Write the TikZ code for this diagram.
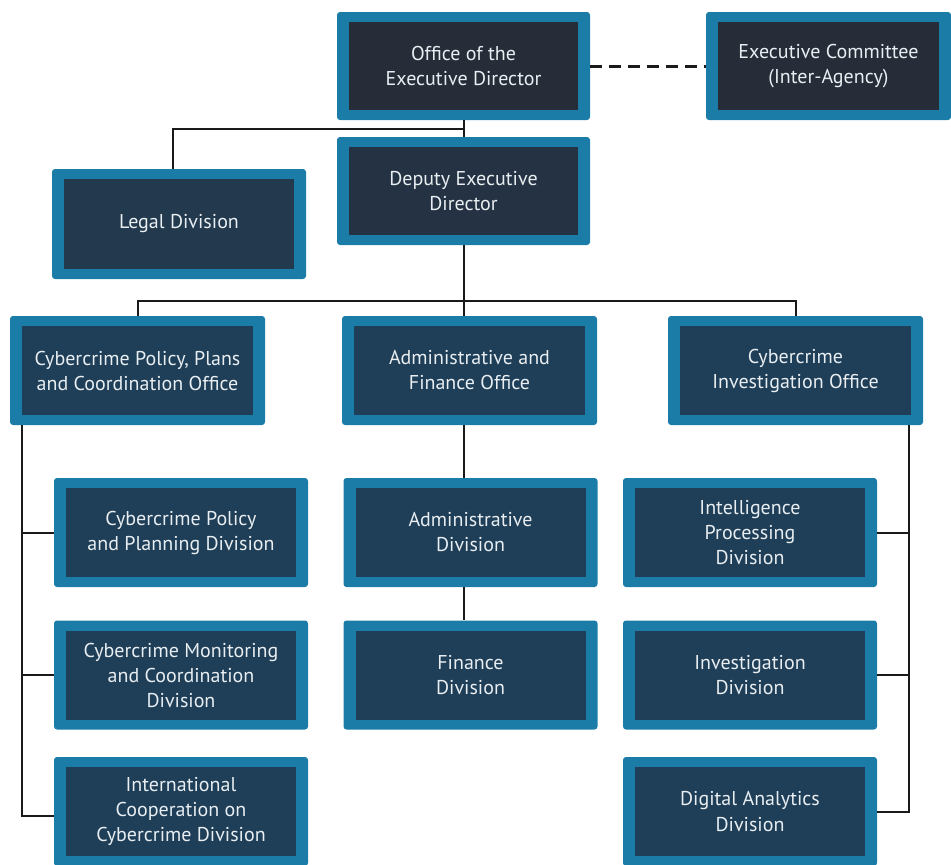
\documentclass[tikz,border=0pt]{standalone}
\usepackage{fontspec}
\setmainfont{PT Sans}
\usepackage{xcolor}
\usepackage{tikz}
\usetikzlibrary{positioning, calc}

\definecolor{boxblue}{HTML}{1B7CA7}
\definecolor{topdark}{HTML}{262D39}
\definecolor{depdark}{HTML}{253243}
\definecolor{legaldark}{HTML}{22394E}
\definecolor{divdark}{HTML}{1F3E57}
\definecolor{boxtext}{HTML}{E8EEF1}
\definecolor{linkgray}{HTML}{1A1A1A}

\begin{document}
\begin{tikzpicture}[
  x=1pt, y=-1pt,
  orgbox/.style={fill=boxblue, rounded corners=3pt, inner sep=0pt, align=center,
    minimum width=254pt, minimum height=109pt, text=boxtext,
    font=\fontsize{20}{25}\selectfont,
    path picture={\fill[#1, sharp corners]
      ([xshift=12pt, yshift=10pt]path picture bounding box.south west) rectangle
      ([xshift=-12pt, yshift=-10pt]path picture bounding box.north east);}},
  orgbox/.default=divdark,
  link/.style={draw=linkgray, line width=2pt},
  dashlink/.style={draw=linkgray, line width=3pt, dash pattern=on 12pt off 7pt},
]
\useasboundingbox (0,0) rectangle (951,865);

% Top level
\node[orgbox=topdark, minimum width=253pt, minimum height=108pt] (ed) at (463.5,66) {Office of the\\Executive Director};
\node[orgbox=topdark, minimum width=245pt, minimum height=108pt] (excom) at (828.5,66) {Executive Committee\\(Inter-Agency)};
\node[orgbox=depdark, minimum width=253pt, minimum height=108pt] (dep) at (463.5,191) {Deputy Executive\\Director};
\node[orgbox=legaldark, minimum height=110pt] (legal) at (179,224) {Legal Division};

% Offices
\node[orgbox, minimum width=255pt] (cppco) at (137.5,370.5) {Cybercrime Policy, Plans\\and Coordination Office};
\node[orgbox, minimum width=255pt] (afo) at (469.5,370.5) {Administrative and\\Finance Office};
\node[orgbox, minimum width=255pt] (cio) at (795.5,370.5) {Cybercrime\\Investigation Office};

% Divisions under each office
\node[orgbox] (cppd) at (181,532.5) {Cybercrime Policy\\and Planning Division};
\node[orgbox] (cmcd) at (181,675) {Cybercrime Monitoring\\and Coordination\\Division};
\node[orgbox] (iccd) at (181,811.5) {International\\Cooperation on\\Cybercrime Division};

\node[orgbox] (admd) at (470.5,532.5) {Administrative\\Division};
\node[orgbox] (find) at (470.5,675) {Finance\\Division};

\node[orgbox] (ipd) at (750,532.5) {Intelligence\\Processing\\Division};
\node[orgbox] (invd) at (750,675) {Investigation\\Division};
\node[orgbox] (dad) at (750,811.5) {Digital Analytics\\Division};

% Junction points
\coordinate (edjoin) at ($(ed.south)!0.5!(dep.north)$);
\coordinate (hbus) at ([yshift=-56pt]dep.south);
\coordinate (lbus) at ([xshift=12.5pt]cppco.south west);
\coordinate (rbus) at ([xshift=-14pt]cio.south east);

% Links
\draw[dashlink] (ed.east) -- (excom.west);
\draw[link] (ed.south) -- (dep.north);
\draw[link] (edjoin) -| ([xshift=-6pt]legal.north);
\draw[link] (dep.south) -- (dep.south |- afo.north);
\draw[link] (cppco.north) |- (hbus) -| (cio.north);
\draw[link] (dep.south |- afo.south) -- (dep.south |- admd.north);
\draw[link] (dep.south |- admd.south) -- (dep.south |- find.north);

\draw[link] (lbus) |- ([yshift=-4pt]iccd.west);
\draw[link] (lbus |- cppd.west) -- (cppd.west);
\draw[link] (lbus |- cmcd.west) -- (cmcd.west);

\draw[link] (rbus) |- (dad.east);
\draw[link] (rbus |- ipd.east) -- (ipd.east);
\draw[link] (rbus |- invd.east) -- (invd.east);

\end{tikzpicture}
\end{document}
